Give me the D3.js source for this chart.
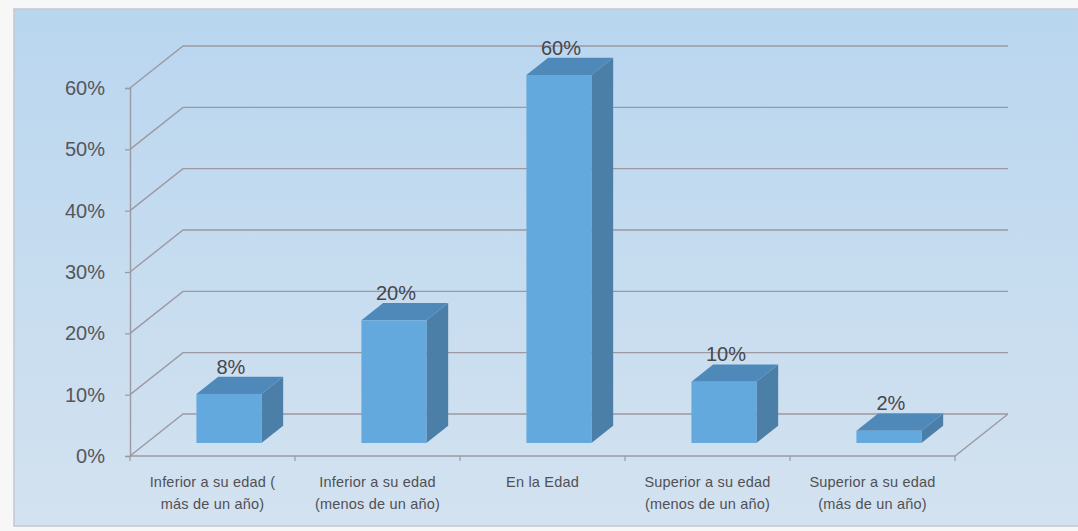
<!DOCTYPE html>
<html><head><meta charset="utf-8">
<script src="https://cdn.jsdelivr.net/npm/d3@7/dist/d3.min.js"></script>
<style>html,body{margin:0;padding:0;background:#f7f7f8;}svg{display:block;}</style>
</head><body>
<svg id="c" width="1078" height="531"></svg>
<script>
const categories = [
  ["Inferior a su edad (", "más de un año)"],
  ["Inferior a su edad", "(menos de un año)"],
  ["En la Edad"],
  ["Superior a su edad", "(menos de un año)"],
  ["Superior a su edad", "(más de un año)"]
];
const values = [0.08, 0.20, 0.60, 0.10, 0.02];
const valueLabels = ["8%", "20%", "60%", "10%", "2%"];
const yTicks = [0, 0.1, 0.2, 0.3, 0.4, 0.5, 0.6];

const svg = d3.select("#c");
const defs = svg.append("defs");
const bg = defs.append("linearGradient").attr("id","bg").attr("x1",0).attr("y1",0).attr("x2",0).attr("y2",1);
bg.append("stop").attr("offset","0%").attr("stop-color","#b9d6ef");
bg.append("stop").attr("offset","100%").attr("stop-color","#d3e2f0");

svg.append("rect").attr("x",14).attr("y",9).attr("width",1070).attr("height",517)
  .attr("fill","url(#bg)").attr("stroke","#c4c8d0").attr("stroke-width",1.5);

const x0 = 130, x1 = 955;
const DX = 53, DY = -42;
const y = d3.scaleLinear().domain([0, 0.6]).range([456, 88]);
const x = d3.scaleBand().domain(d3.range(values.length)).range([x0, x1])
  .paddingInner(0.606).paddingOuter(0.303);
const xc = d3.scaleBand().domain(d3.range(values.length)).range([x0, x1]);

const grid = "#9c99a2";
const g = svg.append("g");
yTicks.forEach(t => {
  const yy = y(t);
  g.append("path").attr("d", `M${x0},${yy}L${x0+DX},${yy+DY}L${x1+DX},${yy+DY}`)
    .attr("fill","none").attr("stroke",grid).attr("stroke-width",1.4);
});
g.append("path").attr("d", `M${x0},${y(0)}L${x1},${y(0)}L${x1+DX},${y(0)+DY}`)
  .attr("fill","none").attr("stroke",grid).attr("stroke-width",1.4);

const yAxis = d3.axisLeft(y).tickValues(yTicks).tickFormat(d3.format(".0%")).tickSize(5).tickPadding(20);
const ya = svg.append("g").attr("transform",`translate(${x0},0)`).call(yAxis);
ya.select(".domain").attr("stroke",grid).attr("stroke-width",1.4);
ya.selectAll(".tick line").attr("stroke",grid).attr("stroke-width",1.2);
ya.selectAll(".tick text").attr("fill","#55565c").attr("font-family","'Liberation Sans', Arial, sans-serif")
  .attr("font-size",20);

d3.range(values.length+1).forEach(i => {
  const xx = x0 + i*xc.step();
  svg.append("line").attr("x1",xx).attr("x2",xx).attr("y1",y(0)).attr("y2",y(0)+5)
    .attr("stroke",grid).attr("stroke-width",1.2);
});

const f1 = 0.31, f2 = 0.72;
const bars = svg.append("g");
values.forEach((v,i) => {
  const bx = x(i) + DX*f1, bw = x.bandwidth();
  const by0 = y(0) + DY*f1, byt = y(v) + DY*f1;
  const ddx = DX*(f2-f1), ddy = DY*(f2-f1);
  bars.append("path").attr("d",`M${bx+bw},${by0}L${bx+bw+ddx},${by0+ddy}L${bx+bw+ddx},${byt+ddy}L${bx+bw},${byt}Z`)
    .attr("fill","#4c7fa8");
  bars.append("path").attr("d",`M${bx},${byt}L${bx+ddx},${byt+ddy}L${bx+bw+ddx},${byt+ddy}L${bx+bw},${byt}Z`)
    .attr("fill","#4f89ba");
  bars.append("rect").attr("x",bx).attr("y",byt).attr("width",bw).attr("height",by0-byt)
    .attr("fill","#64a9dd");
  bars.append("text").attr("x",bx+bw/2+2).attr("y",byt+ddy-3).attr("text-anchor","middle")
    .attr("fill","#47474c").attr("font-family","'Liberation Sans', Arial, sans-serif").attr("font-size",20)
    .text(valueLabels[i]);
});

categories.forEach((lines,i) => {
  const cx = xc(i) + xc.bandwidth()/2;
  lines.forEach((ln,j) => {
    svg.append("text").attr("x",cx).attr("y",487 + j*22).attr("text-anchor","middle")
      .attr("fill","#505055").attr("font-family","'Liberation Sans', Arial, sans-serif").attr("font-size",14.5)
      .attr("letter-spacing","0.2px")
      .text(ln);
  });
});
</script>
</body></html>
